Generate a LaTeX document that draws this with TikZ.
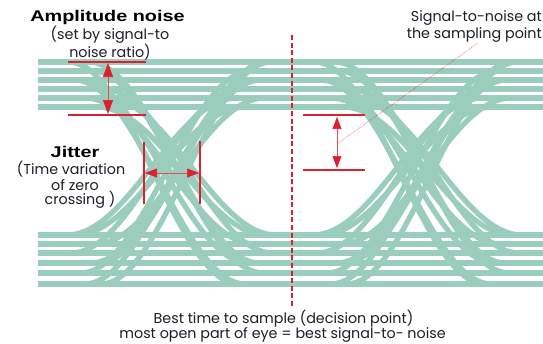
\documentclass[tikz,border=0pt]{standalone}
\usepackage{fontspec}
\setmainfont{Poppins}
\newfontfamily\headfont{Liberation Sans}
\usetikzlibrary{arrows.meta}
\definecolor{eyegreen}{RGB}{154,205,188}
\definecolor{annred}{RGB}{220,32,48}
\definecolor{txt}{RGB}{30,30,40}
\newcommand\eyetrans[4]{\draw[eyeline] plot[domain=-85:85,samples=37] ({#1+#4+\x},{(#2+#3)/2+(#2-#3)/2*cos((\x+85)*1.058824)});}
\begin{document}
\begin{tikzpicture}[x=1pt,y=-1pt,
  eyeline/.style={eyegreen,line width=5.3pt,line cap=butt},
  redline/.style={annred,line width=1.6pt},
  dbl/.style={annred!80,line width=0.6pt,{Triangle[length=14pt,width=10pt,color=annred]}-{Triangle[length=14pt,width=10pt,color=annred]}},
  dblsmall/.style={annred!80,line width=0.6pt,{Triangle[length=12pt,width=9pt,color=annred]}-{Triangle[length=12pt,width=9pt,color=annred]}},
  bodytext/.style={text=txt,font=\fontsize{14.3pt}{16pt}\selectfont,inner sep=0pt},
  headtext/.style={text=black,font=\headfont\bfseries\fontsize{15.5pt}{18pt}\selectfont,inner sep=0pt,xscale=1.28}
]
\fill[white] (0,0) rectangle (543,343);
\useasboundingbox (0,0) rectangle (543,343);
% eye diagram traces
\begin{scope}
\clip (38,0) rectangle (543,343);
\foreach \yy in {62,71,80,89,98,107,235,244,253,263,273,284}
  \draw[eyeline] (38,\yy) -- (543,\yy);
\foreach \xc in {172,418}{
  \eyetrans{\xc}{62}{284}{-18}
  \eyetrans{\xc}{71}{273}{6}
  \eyetrans{\xc}{80}{263}{-8}
  \eyetrans{\xc}{89}{253}{16}
  \eyetrans{\xc}{98}{244}{-2}
  \eyetrans{\xc}{107}{235}{10}
  \eyetrans{\xc}{62}{263}{2}
  \eyetrans{\xc}{80}{284}{-12}
  \eyetrans{\xc}{98}{235}{19}
  \eyetrans{\xc}{284}{62}{14}
  \eyetrans{\xc}{273}{71}{-6}
  \eyetrans{\xc}{263}{80}{4}
  \eyetrans{\xc}{253}{89}{-16}
  \eyetrans{\xc}{244}{98}{8}
  \eyetrans{\xc}{235}{107}{-12}
  \eyetrans{\xc}{284}{80}{-2}
  \eyetrans{\xc}{263}{62}{11}
  \eyetrans{\xc}{235}{98}{-20}
}
\end{scope}
% decision line
\coordinate (dtop) at (292,35);
\coordinate (dbot) at (292,307);
\draw[annred,line width=2.6pt,dash pattern=on 5pt off 2.6pt] (dtop) -- (dbot);
% amplitude noise marker
\coordinate (a1l) at (68,62); \coordinate (a1r) at (146,62);
\coordinate (a2l) at (68,115); \coordinate (a2r) at (146,115);
\draw[redline] (a1l) -- (a1r);
\draw[redline] (a2l) -- (a2r);
\coordinate (aup) at (108,63); \coordinate (adn) at (108,114);
\draw[dbl] (aup) -- (adn);
% jitter marker
\coordinate (j1t) at (144,142); \coordinate (j1b) at (144,204);
\coordinate (j2t) at (200,141); \coordinate (j2b) at (200,204);
\draw[annred,line width=2pt] (j1t) -- (j1b);
\draw[annred,line width=2pt] (j2t) -- (j2b);
\coordinate (jl) at (145,173); \coordinate (jr) at (199,173);
\draw[dblsmall] (jl) -- (jr);
% signal-to-noise marker
\coordinate (s1l) at (303,115); \coordinate (s1r) at (365,115);
\coordinate (s2l) at (303,170); \coordinate (s2r) at (365,170);
\draw[redline] (s1l) -- (s1r);
\draw[redline] (s2l) -- (s2r);
\coordinate (sup) at (337,117); \coordinate (sdn) at (337,168);
\draw[dblsmall] (sup) -- (sdn);
% texts
\node[headtext] (amp) at (107.5,17) {Amplitude noise};
\node[bodytext] (amp2) at (110,35) {(set by signal-to};
\node[bodytext] (amp3) at (110,52) {noise ratio)};
\node[bodytext,anchor=east] (snr1) at (542,18) {Signal-to-noise at};
\node[bodytext,anchor=east] (snr2) at (542,35) {the sampling point};
\coordinate (leadtop) at (478,43);
\coordinate (lead) at (337,144);
\draw[annred,line width=0.5pt,densely dotted] (leadtop) -- (lead);
\node[headtext] (jit) at (75,152) {Jitter};
\node[bodytext] (jit2) at (71,169) {(Time variation};
\node[bodytext] (jit3) at (75,185) {of zero};
\node[bodytext] (jit4) at (80,200) {crossing )};
\node[bodytext] (best1) at (283.5,319) {Best time to sample (decision point)};
\node[bodytext] (best2) at (282.5,335) {most open part of eye = best signal-to- noise};
\end{tikzpicture}
\end{document}
